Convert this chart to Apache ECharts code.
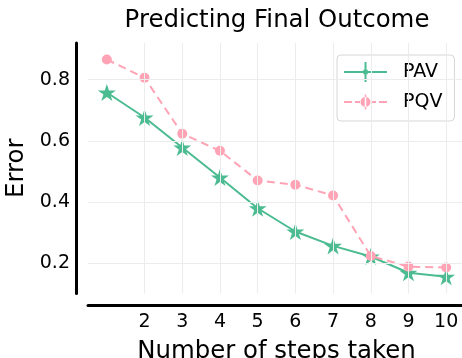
<!DOCTYPE html>
<html>
<head>
<meta charset="utf-8">
<script src="https://cdn.jsdelivr.net/npm/echarts@6/dist/echarts.min.js"></script>
<style>html,body{margin:0;padding:0;background:#fff}#c{width:462px;height:358px}</style>
</head>
<body>
<div id="c"></div>
<script>
const steps = [1, 2, 3, 4, 5, 6, 7, 8, 9, 10];
const pav = [0.758, 0.676, 0.578, 0.480, 0.379, 0.303, 0.256, 0.221, 0.168, 0.155];
const pqv = [0.866, 0.806, 0.623, 0.567, 0.470, 0.456, 0.421, 0.223, 0.188, 0.185];
const xTicks = [2, 3, 4, 5, 6, 7, 8, 9, 10];
const yTicks = [0.2, 0.4, 0.6, 0.8];

const GREEN = '#4bbb91';
const PINK = '#ffa3b5';
const FONT = 'DejaVu Sans';
const STAR = 'path://M50,0L61.17,34.63L97.55,34.55L68.07,55.87L79.39,90.45L50,69L20.61,90.45L31.93,55.87L2.45,34.55L38.83,34.63Z';
const PAV_ICON = 'path://M0,0M43,20M0,9h43v2h-43z M20.5,0h2v20h-2z M19.3,7.8h4.4v4.4h-4.4z';
const PQV_ICON = 'path://M0,0M43,20M0,9h8v2h-8z M11,9h5v2h-5z M27,9h5v2h-5z M35,9h8v2h-8z M20.75,2.5h1.5v15h-1.5z M26.5,10a5,5 0 1,0 -10,0a5,5 0 1,0 10,0z';

const chart = echarts.init(document.getElementById('c'), null, {renderer: 'canvas'});
chart.setOption({
  backgroundColor: '#fff',
  animation: false,
  title: {
    text: 'Predicting Final Outcome',
    left: 272, top: 4, textAlign: 'center',
    textStyle: {fontFamily: FONT, fontSize: 24.4, fontWeight: 'normal', color: '#000'}
  },
  legend: {
    orient: 'vertical',
    left: 337, top: 55,
    padding: [7, 12, 9, 7],
    itemWidth: 43, itemHeight: 20, itemGap: 10,
    symbolKeepAspect: true,
    backgroundColor: 'rgba(255,255,255,0.85)',
    borderColor: '#d6d6d6', borderWidth: 1, borderRadius: 4,
    textStyle: {fontFamily: FONT, fontSize: 19, color: '#000', padding: [0, 0, 0, 11]},
    data: [
      {name: 'PAV', icon: PAV_ICON},
      {name: 'PQV', icon: PQV_ICON}
    ]
  },
  grid: {left: 88, right: -3, top: 43, bottom: 64.5, containLabel: false, outerBoundsMode: 'none'},
  xAxis: {
    type: 'value', min: 0.5, max: 10.5, offset: 12,
    name: 'Number of steps taken', nameLocation: 'middle', nameGap: 34,
    nameTextStyle: {fontFamily: FONT, fontSize: 24.4, color: '#000'},
    axisLine: {show: true, lineStyle: {color: '#000', width: 3}},
    axisTick: {show: false},
    splitLine: {show: false},
    axisLabel: {customValues: xTicks, fontFamily: FONT, fontSize: 19, color: '#000', margin: 7}
  },
  yAxis: {
    type: 'value', min: 0.1, max: 0.92, offset: 12,
    name: 'Error', nameLocation: 'middle', nameGap: 44, nameRotate: 90,
    nameTextStyle: {fontFamily: FONT, fontSize: 24.4, color: '#000'},
    axisLine: {show: true, lineStyle: {color: '#000', width: 3}},
    axisTick: {show: false},
    splitLine: {show: false},
    axisLabel: {customValues: yTicks, fontFamily: FONT, fontSize: 19, color: '#000', margin: 6,
      formatter: v => v.toFixed(1)}
  },
  series: [
    {
      type: 'line', name: 'grid', data: [], z: 1, silent: true,
      markLine: {
        silent: true, symbol: 'none', animation: false,
        label: {show: false},
        lineStyle: {color: '#ececec', width: 1, type: 'solid'},
        data: xTicks.map(v => ({xAxis: v})).concat(yTicks.map(v => ({yAxis: v})))
      }
    },
    {
      type: 'line', name: 'PAV', z: 3,
      data: steps.map((s, i) => [s, pav[i]]),
      symbol: STAR, symbolSize: 18, symbolKeepAspect: true,
      itemStyle: {color: GREEN},
      lineStyle: {color: GREEN, width: 2}
    },
    {
      type: 'line', name: 'PQV', z: 4,
      data: steps.map((s, i) => [s, pqv[i]]),
      symbol: 'circle', symbolSize: 10,
      itemStyle: {color: PINK},
      lineStyle: {color: PINK, width: 2, type: [8, 5]}
    }
  ]
});
</script>
</body>
</html>
